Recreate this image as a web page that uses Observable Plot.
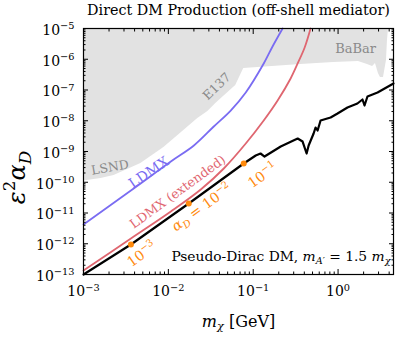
<!DOCTYPE html>
<html><head><meta charset="utf-8">
<script src="https://cdn.jsdelivr.net/npm/d3@7"></script>
<script src="https://cdn.jsdelivr.net/npm/@observablehq/plot@0.6"></script>
<style>
html,body{margin:0;padding:0;background:#fff;}
#chart svg{display:block;}
</style></head><body><div id="chart"></div>
<script>
// ---- text ----
const titleText = "Direct DM Production (off-shell mediator)";
const xLabelText = "|m|_{|χ|} [GeV]";
const yLabelText = "|ε|^{2}|α|_{|D|}";
const noteText = "Pseudo-Dirac DM, |m|_{|A|′} = 1.5 |m|_{|χ|}";

// ---- axes ----
const xDomain = [1e-3, 4.5];
const yDomain = [1e-13, 1e-5];
const xTickValues = [1e-3, 1e-2, 1e-1, 1];
const xTickLabels = ["10^{−3}", "10^{−2}", "10^{−1}", "10^{0}"];
const yTickValues = [1e-13, 1e-12, 1e-11, 1e-10, 1e-9, 1e-8, 1e-7, 1e-6, 1e-5];
const yTickLabels = ["10^{−13}", "10^{−12}", "10^{−11}", "10^{−10}", "10^{−9}", "10^{−8}", "10^{−7}", "10^{−6}", "10^{−5}"];
const minorMultipliers = [2, 3, 4, 5, 6, 7, 8, 9];

// ---- excluded region (LSND, E137, BaBar): lower edge ----
const excludedX = [1e-3, 1.61e-3, 2.29e-3, 4.74e-3, 8.85e-3, 1.52e-2, 2.22e-2, 2.92e-2, 3.62e-2, 4.74e-2, 6.22e-2, 7.73e-2, 0.362, 0.885, 1.74, 2.22, 2.55, 2.76, 2.99, 3.16, 3.43, 3.72, 3.82, 3.93];
const excludedY = [1.1e-10, 1.32e-10, 1.66e-10, 4.07e-10, 1.35e-9, 4.82e-9, 1.18e-8, 2.0e-8, 3.64e-8, 7.15e-8, 1.40e-7, 5.0e-7, 6.75e-7, 7.83e-7, 8.45e-7, 6.75e-7, 5.81e-7, 7.28e-7, 3.44e-7, 2.55e-7, 2.55e-7, 9.1e-7, 4.07e-6, 1e-5];

// ---- LDMX ----
const ldmxX = [1e-3, 3.62e-3, 1.07e-2, 2.0e-2, 3.43e-2, 5.43e-2, 8.17e-2, 0.133, 0.169, 0.222];
const ldmxY = [4.23e-12, 5.40e-11, 4.73e-10, 1.57e-9, 6.50e-9, 2.15e-8, 8.30e-8, 7.28e-7, 2.60e-6, 1e-5];

// ---- LDMX (extended) ----
const ldmxExtX = [1e-3, 3.62e-3, 1.07e-2, 2.41e-2, 4.50e-2, 8.17e-2, 0.133, 0.194, 0.276, 0.334, 0.404, 0.474];
const ldmxExtY = [1.35e-13, 1.48e-12, 1.12e-11, 5.81e-11, 2.80e-10, 1.82e-9, 1.02e-8, 4.56e-8, 2.37e-7, 7.28e-7, 2.41e-6, 1e-5];

// ---- relic target (black) ----
const relicX = [1e-3, 3.62e-3, 1.74e-2, 7.73e-2, 0.107, 0.122, 0.136, 0.211, 0.334, 0.382, 0.426, 0.450, 0.515, 0.543, 0.574, 0.622, 0.817, 0.986, 1.29, 1.69, 1.94, 2.05, 2.22, 2.92, 4.50];
const relicY = [1e-13, 9.46e-13, 2.04e-11, 4.07e-10, 7.41e-10, 8.61e-10, 6.87e-10, 1.46e-9, 2.65e-9, 2.11e-9, 8.61e-10, 1.57e-9, 3.85e-9, 6.03e-9, 4.82e-9, 1.02e-8, 1.28e-8, 1.72e-8, 2.70e-8, 3.64e-8, 4.91e-8, 3.13e-8, 6.15e-8, 8.30e-8, 1.63e-7];

// ---- alpha_D markers ----
const alphaX = [3.62e-3, 1.74e-2, 7.73e-2];
const alphaY = [9.46e-13, 2.04e-11, 4.07e-10];
const alphaLabels = ["10^{−3}", "|α|_{|D|} = 10^{−2}", "10^{−1}"];

// ---- build tables ----
const excluded = excludedX.map((x, i) => ({x, y1: excludedY[i], y2: yDomain[1]}));
const ldmx = ldmxX.map((x, i) => ({x, y: ldmxY[i]}));
const ldmxExt = ldmxExtX.map((x, i) => ({x, y: ldmxExtY[i]}));
const relic = relicX.map((x, i) => ({x, y: relicY[i]}));
const alpha = alphaX.map((x, i) => ({x, y: alphaY[i], label: alphaLabels[i]}));

const decadesX = [1e-3, 1e-2, 1e-1, 1];
const minorX = decadesX.flatMap(d => minorMultipliers.map(m => m * d)).filter(v => v <= xDomain[1]);
const minorY = yTickValues.slice(0, -1).flatMap(d => minorMultipliers.map(m => m * d));

const BLUE = "#7a6cf2", RED = "#df6670", ORANGE = "#ff8a0d", GREYFILL = "#e2e2e2", GREYTXT = "#8a8a8a";
const labelOffsets = [[11, 10], [13, 4], [19, 12]];
const TICKFS = 14;

const chart = Plot.plot({
  width: 399, height: 339,
  marginLeft: 83, marginRight: 6, marginTop: 28, marginBottom: 65,
  style: {fontFamily: "'DejaVu Serif', serif", fontSize: TICKFS + "px", background: "white", color: "black"},
  x: {type: "log", domain: xDomain},
  y: {type: "log", domain: yDomain},
  marks: [
    Plot.areaY(excluded, {x: "x", y1: "y1", y2: "y2", fill: GREYFILL}),
    Plot.line(ldmx, {x: "x", y: "y", stroke: BLUE, strokeWidth: 1.8, curve: "catmull-rom"}),
    Plot.line(ldmxExt, {x: "x", y: "y", stroke: RED, strokeWidth: 1.8, curve: "catmull-rom"}),
    Plot.line(relic, {x: "x", y: "y", stroke: "black", strokeWidth: 2.2}),
    Plot.dot(alpha, {x: "x", y: "y", r: 3, fill: ORANGE}),
    ...alpha.map((a, i) => Plot.text([a], {x: "x", y: "y", text: "label", fill: ORANGE, fontSize: 14, textAnchor: "middle", rotate: -36, dx: labelOffsets[i][0], dy: labelOffsets[i][1]})),
    Plot.text([{x: 2.05e-3, y: 3.0e-10, t: "LSND"}], {x: "x", y: "y", text: "t", fill: GREYTXT, fontSize: 12.5, textAnchor: "middle", rotate: -10}),
    Plot.text([{x: 3.72e-2, y: 1.3e-7, t: "E137"}], {x: "x", y: "y", text: "t", fill: GREYTXT, fontSize: 12.5, textAnchor: "middle", rotate: -44}),
    Plot.text([{x: 1.61, y: 2.24e-6, t: "BaBar"}], {x: "x", y: "y", text: "t", fill: GREYTXT, fontSize: 13, textAnchor: "middle"}),
    Plot.text([{x: 5.9e-3, y: 2.07e-10, t: "LDMX"}], {x: "x", y: "y", text: "t", fill: BLUE, fontSize: 14, textAnchor: "middle", rotate: -34}),
    Plot.text([{x: 1.29e-2, y: 4.82e-11, t: "LDMX (extended)"}], {x: "x", y: "y", text: "t", fill: RED, fontSize: 12.8, textAnchor: "middle", rotate: -36}),
    Plot.text([noteText], {frameAnchor: "bottom-right", textAnchor: "end", lineAnchor: "bottom", dx: -3, dy: -14, fontSize: 13.8, fill: "black"}),
    Plot.text([titleText], {frameAnchor: "top", textAnchor: "middle", lineAnchor: "bottom", dy: -14, fontSize: 14.3, fill: "black"}),
    Plot.text([xLabelText], {frameAnchor: "bottom", textAnchor: "middle", lineAnchor: "bottom", dy: 52, fontSize: 16, fill: "black"}),
    Plot.text([yLabelText], {frameAnchor: "left", textAnchor: "middle", lineAnchor: "middle", rotate: -90, dx: -66, dy: 26, fontSize: 24, fill: "black"}),
    Plot.frame({stroke: "black", strokeWidth: 1.2}),
    // ticks (inward, all four sides)
    Plot.axisX({anchor: "bottom", ticks: xTickValues, tickSize: -5, text: null, label: null}),
    Plot.axisX({anchor: "bottom", ticks: minorX, tickSize: -2.5, text: null, label: null}),
    Plot.axisX({anchor: "top", ticks: xTickValues, tickSize: -5, text: null, label: null}),
    Plot.axisX({anchor: "top", ticks: minorX, tickSize: -2.5, text: null, label: null}),
    Plot.axisY({anchor: "left", ticks: yTickValues, tickSize: -5, text: null, label: null}),
    Plot.axisY({anchor: "left", ticks: minorY, tickSize: -2.5, text: null, label: null}),
    Plot.axisY({anchor: "right", ticks: yTickValues, tickSize: -5, text: null, label: null}),
    Plot.axisY({anchor: "right", ticks: minorY, tickSize: -2.5, text: null, label: null}),
    // tick labels
    Plot.axisX({anchor: "bottom", ticks: xTickValues, tickSize: 0, tickPadding: 12, label: null, fontSize: TICKFS,
      tickFormat: d => xTickLabels[xTickValues.indexOf(d)]}),
    Plot.axisY({anchor: "left", ticks: yTickValues, tickSize: 0, tickPadding: 9, label: null, fontSize: TICKFS, dy: 2,
      tickFormat: d => yTickLabels[yTickValues.indexOf(d)]})
  ]
});
document.getElementById("chart").appendChild(chart);

// render ^{..} superscripts, _{..} subscripts and |..| italics as tspans
(function richText(svg) {
  const re = /(\^\{[^}]*\}|_\{[^}]*\}|\|[^|]*\|)/;
  svg.querySelectorAll("text").forEach(el => {
    if (el.children.length) return;
    const s = el.textContent;
    if (!/\^\{|_\{|\|/.test(s)) return;
    const fs = parseFloat(getComputedStyle(el).fontSize) || 10;
    el.textContent = "";
    let cur = 0;
    const add = (str, shift, small, italic) => {
      str.split(re).forEach(part => {
        if (!part) return;
        if (part.startsWith("^{")) add(part.slice(2, -1), -0.42 * fs, true, italic);
        else if (part.startsWith("_{")) add(part.slice(2, -1), 0.24 * fs, true, italic);
        else if (part.length > 1 && part[0] === "|" && part[part.length - 1] === "|") add(part.slice(1, -1), shift, small, true);
        else {
          const t = document.createElementNS("http://www.w3.org/2000/svg", "tspan");
          t.textContent = part;
          if (small) t.setAttribute("font-size", (0.7 * fs) + "px");
          if (italic) t.setAttribute("font-style", "italic");
          const d = shift - cur;
          if (d) t.setAttribute("dy", d);
          cur = shift;
          el.appendChild(t);
        }
      });
    };
    add(s, 0, false, false);
  });
})(chart);
</script></body></html>
